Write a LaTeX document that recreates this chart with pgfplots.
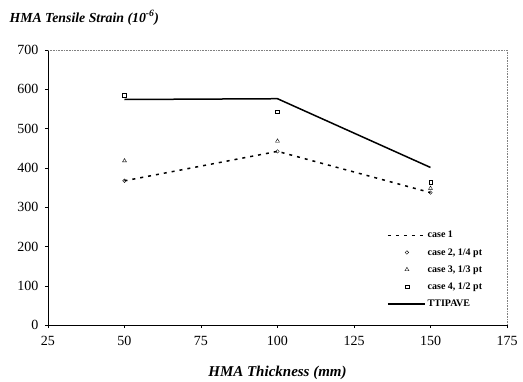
\documentclass[border=0pt]{standalone}
\usepackage{pgfplots}
\pgfplotsset{compat=1.18}
\usepackage{fontspec}
\setmainfont{Liberation Serif}
\pgfplotsset{
  lineleg/.style={legend image code/.code={\draw[##1] (0pt,0pt) -- (37pt,0pt);}},
  markleg/.style={legend image code/.code={\draw[##1] plot coordinates {(19pt,0pt)};}},
}
\begin{document}
\begin{tikzpicture}
\begin{axis}[
  scale only axis, width=459pt, height=275pt,
  xmin=25, xmax=175, ymin=0, ymax=700,
  xtick={25,50,...,175}, ytick={0,100,...,700},
  axis line style={draw=none},
  tick style={black, thin},
  major tick length=3pt,
  tick align=outside,
  xtick pos=bottom, ytick pos=left,
  /pgf/number format/assume math mode=true,
  ticklabel style={font=\fontsize{14}{16}\selectfont},
  xticklabel style={yshift=-5pt},
  yticklabel style={xshift=-3pt},
  legend style={draw=none, fill=none, at={(0.732,0.356)}, anchor=north west,
    font=\bfseries\fontsize{10}{11}\selectfont, row sep=5pt,
    /tikz/every even column/.append style={column sep=2pt}},
  legend cell align=left,
  clip=false,
]
% frame
\draw[black, line width=0.9pt] (rel axis cs:0,1) -- (rel axis cs:0,0) -- (rel axis cs:1,0);
\draw[gray, densely dotted, line width=0.6pt] (rel axis cs:0,1) -- (rel axis cs:1,1) -- (rel axis cs:1,0);

\addplot[black, line width=1.5pt, dash pattern=on 3pt off 5pt, lineleg]
  coordinates {(50,367) (100,442) (150,337)};
\addlegendentry{case 1}
\addplot[only marks, mark=o, mark size=1.8pt, black, thin, markleg]
  coordinates {(50,367) (100,442) (150,337)};
\addlegendentry{case 2, 1/4 pt}
\addplot[only marks, mark=triangle, mark size=2.3pt, black, thin, markleg]
  coordinates {(50,418) (100,468) (150,348)};
\addlegendentry{case 3, 1/3 pt}
\addplot[only marks, mark=square, mark size=1.8pt, black, thin, markleg]
  coordinates {(50,585) (100,543) (150,364)};
\addlegendentry{case 4, 1/2 pt}
\addplot[black, line width=1.5pt, lineleg]
  coordinates {(50,574) (100,576) (150,401)};
\addlegendentry{TTIPAVE}
\end{axis}
\node[anchor=base west, font=\bfseries\itshape\fontsize{13.8}{15}\selectfont]
  at ([xshift=-42pt,yshift=28pt]current axis.north west) {HMA Tensile Strain (10\textsuperscript{-6})};
\node[anchor=base, font=\bfseries\itshape\fontsize{15}{17}\selectfont]
  at ([yshift=-51pt]current axis.south) {HMA Thickness (mm)};
\pgfresetboundingbox
\useasboundingbox ([xshift=-48pt,yshift=-56pt]current axis.south west) rectangle ++(523pt,381pt);
\end{tikzpicture}
\end{document}
